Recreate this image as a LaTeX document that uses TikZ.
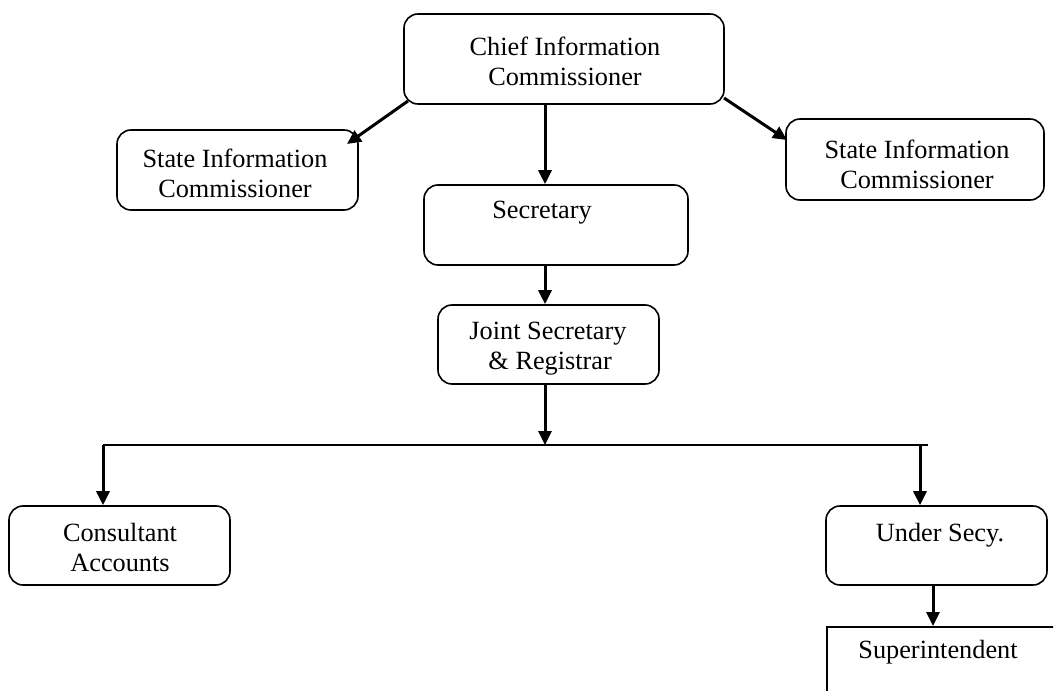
\documentclass[tikz,border=0pt]{standalone}
\usepackage{fontspec}
\setmainfont{Liberation Serif}
\usetikzlibrary{arrows.meta}
\begin{document}
\begin{tikzpicture}[x=1pt,y=-1pt,
  box/.style={draw,line width=1.6pt,rounded corners=14pt,inner sep=0pt},
  txt/.style={align=center,inner sep=0pt,font=\fontsize{26.3}{30}\selectfont},
  arr/.style={line width=3pt,-{Triangle[length=14pt,width=13pt]}},
  bar/.style={line width=1.4pt}]
\useasboundingbox (0,0) rectangle (1054,700);
% boxes
\node[box,minimum width=320pt,minimum height=90pt] (chief) at (564,59) {};
\node[box,minimum width=241pt,minimum height=80pt] (lsic) at (237.5,170) {};
\node[box,minimum width=258pt,minimum height=81pt] (rsic) at (915,159.5) {};
\node[box,minimum width=264pt,minimum height=80pt] (sec) at (556,225) {};
\node[box,minimum width=221pt,minimum height=79pt] (js) at (548.5,344.5) {};
\node[box,minimum width=221pt,minimum height=79pt] (cons) at (119.5,545.5) {};
\node[box,minimum width=221pt,minimum height=79pt] (usec) at (936.5,545.5) {};
\begin{scope}
\clip (0,0) rectangle (1053,690);
\node[draw,line width=1.6pt,minimum width=240pt,minimum height=100pt,anchor=north west,inner sep=0pt] (supt) at (826,626) {};
\end{scope}
% texts
\node[txt] (tchief) at (565,61) {Chief Information\\Commissioner};
\node[txt] (tlsic) at (235,173) {State Information\\Commissioner};
\node[txt] (trsic) at (917,164) {State Information\\Commissioner};
\node[txt] (tsec) at (542,213) {Secretary};
\node[txt] (tjs) at (548,349) {Joint Secretary\\\,\& Registrar};
\node[txt] (tcons) at (120,548) {Consultant\\Accounts};
\node[txt] (tusec) at (940,535) {Under Secy.};
\node[txt] (tsupt) at (938,652) {Superintendent};
% coordinates
\coordinate (cx) at (545,0);
\coordinate (lt) at (347,144);
\coordinate (ls) at (408,101);
\coordinate (rs) at (724,98);
\coordinate (rt) at (787,140);
\coordinate (bl) at (103,445);
\coordinate (br) at (928,445);
\coordinate (rx) at (920,0);
\coordinate (ux) at (933,0);
% connectors
\draw[arr] (chief.south -| cx) -- (sec.north -| cx);
\draw[arr] (ls) -- (lt);
\draw[arr] (rs) -- (rt);
\draw[arr] (sec.south -| cx) -- (js.north -| cx);
\draw[arr] (js.south -| cx) -- (bl -| cx);
\draw[bar] (bl) -- (br);
\draw[arr] (bl) -- (cons.north -| bl);
\draw[arr] (bl -| rx) -- (usec.north -| rx);
\draw[arr] (usec.south -| ux) -- (supt.north -| ux);
\end{tikzpicture}
\end{document}
